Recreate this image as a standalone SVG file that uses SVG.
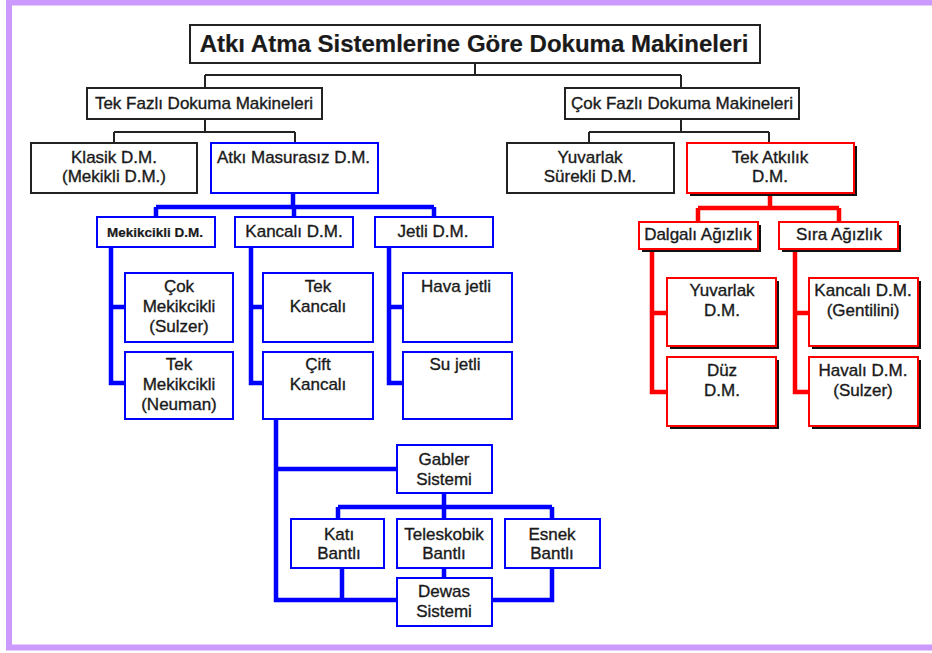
<svg xmlns="http://www.w3.org/2000/svg" width="932" height="653" viewBox="0 0 932 653">
<style>
text{font-family:"Liberation Sans",Arial,sans-serif;font-size:17px;fill:#1a1a1a;stroke:#1a1a1a;stroke-width:0.35;text-anchor:middle}
.t{font-size:24px;font-weight:bold;stroke-width:0.2}
.s{text-anchor:start}
.bk{fill:#fff;stroke:#222;stroke-width:2}
.bl{fill:#fff;stroke:#0000ff;stroke-width:2}
.rd{fill:#fff;stroke:#ff0000;stroke-width:2}
.sh{fill:#111;stroke:none}
.cb{fill:none;stroke:#222;stroke-width:2}
.cu{fill:none;stroke:#0000ff;stroke-width:4.5;stroke-linejoin:miter}
.cr{fill:none;stroke:#ff0000;stroke-width:4.5;stroke-linejoin:miter}
</style>
<rect x="0" y="0" width="932" height="653" fill="#fff"/>
<rect x="9" y="2.5" width="1000" height="645" fill="none" stroke="#cc99ff" stroke-width="6"/>

<g id="connectors">
<path class="cb" d="M475,63V75M205,75H681M205,75V88M681,75V88"/>
<path class="cb" d="M205,119V132M114,132H295M114,132V143M295,132V143"/>
<path class="cb" d="M681,119V132M589,132H769M589,132V143M769,132V143"/>
<path class="cu" d="M293,193V207M156,207H434M156,207V217M294,207V217M434,207V217"/>
<path class="cu" d="M111,247V383H125M111,307H125"/>
<path class="cu" d="M251,247V383H263M251,307H263"/>
<path class="cu" d="M389,247V383H403M389,307H403"/>
<path class="cu" d="M276,419V600H397M276,469H397"/>
<path class="cu" d="M444,493V507M338,507H552M338,507V519M444,507V519M552,507V519"/>
<path class="cu" d="M444,568V578M342,568V600M552,568V600H492"/>
<path class="cr" d="M770,193V208M698,208H839M698,208V222M839,208V222"/>
<path class="cr" d="M652,249V392H667M652,313H667"/>
<path class="cr" d="M795,249V392H809M795,313H809"/>
</g>

<g id="title"><rect class="bk" x="190" y="25" width="570" height="38"/><text class="t" x="474" y="52">Atkı Atma Sistemlerine Göre Dokuma Makineleri</text></g>
<g id="tekfazli"><rect class="bk" x="87" y="88" width="235" height="31"/><text x="204" y="109">Tek Fazlı Dokuma Makineleri</text></g>
<g id="cokfazli"><rect class="bk" x="565" y="88" width="234" height="31"/><text x="682" y="109">Çok Fazlı Dokuma Makineleri</text></g>
<g id="klasik"><rect class="bk" x="31" y="143" width="166" height="50"/><text x="114" y="163">Klasik D.M.</text><text x="114" y="182">(Mekikli D.M.)</text></g>
<g id="masurasiz"><rect class="bl" x="211" y="143" width="167" height="50"/><text class="s" x="217" y="163">Atkı Masurasız D.M.</text></g>
<g id="yuvarlaksurekli"><rect class="bk" x="507" y="143" width="167" height="50"/><text x="590" y="163">Yuvarlak</text><text x="590" y="182">Sürekli D.M.</text></g>
<g id="tekatkilik"><rect class="sh" x="690" y="146" width="167" height="50"/><rect class="rd" x="687" y="143" width="167" height="50"/><text x="770" y="163">Tek Atkılık</text><text x="770" y="182">D.M.</text></g>

<g id="mekikcikli"><rect class="bl" x="97" y="217" width="118" height="30"/><text x="155" y="237" style="font-size:12px;font-weight:bold;stroke-width:0.2" textLength="96" lengthAdjust="spacingAndGlyphs">Mekikcikli D.M.</text></g>
<g id="kancali"><rect class="bl" x="235" y="217" width="118" height="30"/><text x="294" y="237">Kancalı D.M.</text></g>
<g id="jetli"><rect class="bl" x="375" y="217" width="118" height="30"/><text x="433" y="237">Jetli D.M.</text></g>

<g id="cokmekik"><rect class="bl" x="125" y="273" width="108" height="69"/><text x="179" y="292">Çok</text><text x="179" y="312">Mekikcikli</text><text x="179" y="332">(Sulzer)</text></g>
<g id="tekmekik"><rect class="bl" x="125" y="352" width="108" height="67"/><text x="179" y="370">Tek</text><text x="179" y="390">Mekikcikli</text><text x="179" y="410">(Neuman)</text></g>
<g id="tekkancali"><rect class="bl" x="263" y="273" width="110" height="69"/><text x="318" y="292">Tek</text><text x="318" y="312">Kancalı</text></g>
<g id="ciftkancali"><rect class="bl" x="263" y="352" width="110" height="67"/><text x="318" y="370">Çift</text><text x="318" y="390">Kancalı</text></g>
<g id="havajetli"><rect class="bl" x="403" y="273" width="109" height="69"/><text x="456" y="292">Hava jetli</text></g>
<g id="sujetli"><rect class="bl" x="403" y="352" width="109" height="67"/><text x="455" y="370">Su jetli</text></g>

<g id="gabler"><rect class="bl" x="397" y="445" width="95" height="48"/><text x="444" y="465">Gabler</text><text x="444" y="485">Sistemi</text></g>
<g id="kati"><rect class="bl" x="291" y="519" width="93" height="49"/><text x="339" y="540">Katı</text><text x="339" y="559">Bantlı</text></g>
<g id="teleskobik"><rect class="bl" x="397" y="519" width="95" height="49"/><text x="444" y="540">Teleskobik</text><text x="444" y="559">Bantlı</text></g>
<g id="esnek"><rect class="bl" x="505" y="519" width="95" height="49"/><text x="552" y="540">Esnek</text><text x="552" y="559">Bantlı</text></g>
<g id="dewas"><rect class="bl" x="397" y="578" width="95" height="48"/><text x="444" y="597">Dewas</text><text x="444" y="617">Sistemi</text></g>

<g id="dalgali"><rect class="sh" x="642" y="225" width="119" height="27"/><rect class="rd" x="639" y="222" width="119" height="27"/><text x="698" y="240">Dalgalı Ağızlık</text></g>
<g id="sira"><rect class="sh" x="782" y="225" width="119" height="27"/><rect class="rd" x="779" y="222" width="119" height="27"/><text x="839" y="240">Sıra Ağızlık</text></g>
<g id="yuvarlakdm"><rect class="sh" x="670" y="281" width="109" height="68"/><rect class="rd" x="667" y="278" width="109" height="68"/><text x="722" y="296">Yuvarlak</text><text x="722" y="316">D.M.</text></g>
<g id="duzdm"><rect class="sh" x="670" y="360" width="109" height="69"/><rect class="rd" x="667" y="357" width="109" height="69"/><text x="722" y="376">Düz</text><text x="722" y="396">D.M.</text></g>
<g id="gentilini"><rect class="sh" x="812" y="281" width="109" height="68"/><rect class="rd" x="809" y="278" width="109" height="68"/><text x="863" y="296">Kancalı D.M.</text><text x="863" y="316">(Gentilini)</text></g>
<g id="havali"><rect class="sh" x="812" y="360" width="109" height="69"/><rect class="rd" x="809" y="357" width="109" height="69"/><text x="863" y="376">Havalı D.M.</text><text x="863" y="396">(Sulzer)</text></g>
</svg>
